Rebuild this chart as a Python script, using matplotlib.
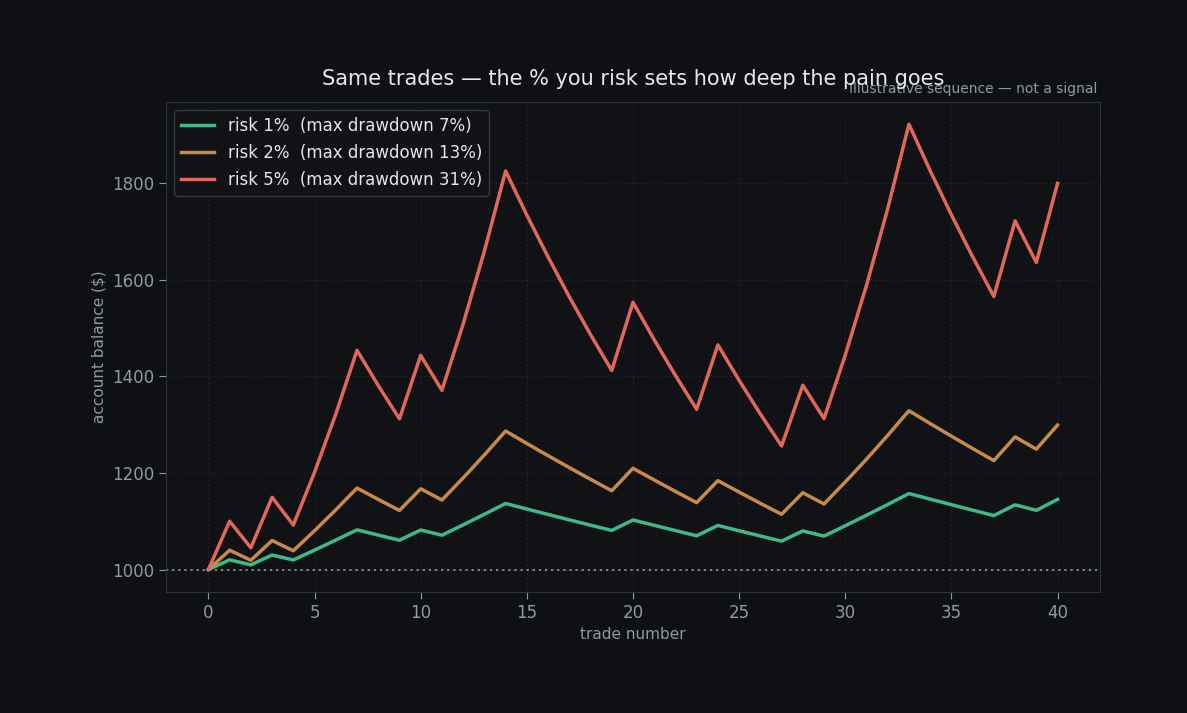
import numpy as np
import matplotlib
matplotlib.use("Agg")
import matplotlib.pyplot as plt

# balance after each trade (same win/loss sequence, different risk per trade)
trades = np.arange(0, 41)
risk_1 = [1000, 1020, 1009.8, 1030.0, 1019.7, 1040.1, 1060.9, 1082.1, 1071.3, 1060.6,
          1081.8, 1071.0, 1092.4, 1114.3, 1136.6, 1125.2, 1114.0, 1102.8, 1091.8, 1080.9,
          1102.5, 1091.5, 1080.6, 1069.8, 1091.2, 1080.2, 1069.4, 1058.7, 1079.9, 1069.1,
          1090.5, 1112.3, 1134.5, 1157.2, 1145.6, 1134.2, 1122.8, 1111.6, 1133.8, 1122.5,
          1145.0]
risk_2 = [1000, 1040, 1019.2, 1060.0, 1038.8, 1080.3, 1123.5, 1168.5, 1145.1, 1122.2,
          1167.1, 1143.8, 1189.5, 1237.1, 1286.6, 1260.8, 1235.6, 1210.9, 1186.7, 1163.0,
          1209.5, 1185.3, 1161.6, 1138.4, 1183.9, 1160.2, 1137.0, 1114.3, 1158.8, 1135.7,
          1181.1, 1228.3, 1277.5, 1328.6, 1302.0, 1276.0, 1250.4, 1225.4, 1274.4, 1249.0,
          1298.9]
risk_5 = [1000, 1100, 1045, 1149.5, 1092.0, 1201.2, 1321.4, 1453.5, 1380.8, 1311.8,
          1443.0, 1370.8, 1507.9, 1658.7, 1824.5, 1733.3, 1646.7, 1564.3, 1486.1, 1411.8,
          1553.0, 1475.3, 1401.6, 1331.5, 1464.6, 1391.4, 1321.8, 1255.7, 1381.3, 1312.2,
          1443.5, 1587.8, 1746.6, 1921.3, 1825.2, 1733.9, 1647.2, 1564.9, 1721.4, 1635.3,
          1798.8]
labels = ["risk 1%  (max drawdown 7%)",
          "risk 2%  (max drawdown 13%)",
          "risk 5%  (max drawdown 31%)"]
colors = ["#3dba86", "#c98a49", "#e2675b"]
start_balance = 1000

bg = "#0e1014"
ax_bg = "#101216"
muted = "#9199a5"

fig = plt.figure(figsize=(11.87, 7.13), dpi=100, facecolor=bg)
ax = fig.add_axes([0.1398, 0.170, 0.7869, 0.687], facecolor=ax_bg)

for ys, lab, c in zip([risk_1, risk_2, risk_5], labels, colors):
    ax.plot(trades, ys, color=c, lw=2.5, label=lab)

ax.axhline(start_balance, color="#a0a4ab", lw=1.1, ls=(0, (1.5, 2.5)), zorder=1)

ax.grid(True, color="#2c3038", lw=0.8, ls=(0, (1, 3)))
ax.set_axisbelow(True)
for s in ax.spines.values():
    s.set_color("#2e3239")
ax.tick_params(colors=muted, labelsize=12, length=5)
ax.set_xticks(np.arange(0, 41, 5))
ax.set_yticks([1000, 1200, 1400, 1600, 1800])

ax.set_xlabel("trade number", color=muted, fontsize=11)
ax.set_ylabel("account balance ($)", color=muted, fontsize=11)
ax.set_title("Same trades — the % you risk sets how deep the pain goes",
             color="#e8e8e8", fontsize=15, pad=12)
ax.text(0.997, 1.013, "Illustrative sequence — not a signal", transform=ax.transAxes,
        ha="right", va="bottom", color=muted, fontsize=10)

leg = ax.legend(loc="upper left", fontsize=12, facecolor="#101216",
                edgecolor="#33373e", labelcolor="#e6e6e6", framealpha=1,
                handlelength=2.0, labelspacing=0.55, borderaxespad=0.5)

fig.savefig("out.png", dpi=100, facecolor=bg)
